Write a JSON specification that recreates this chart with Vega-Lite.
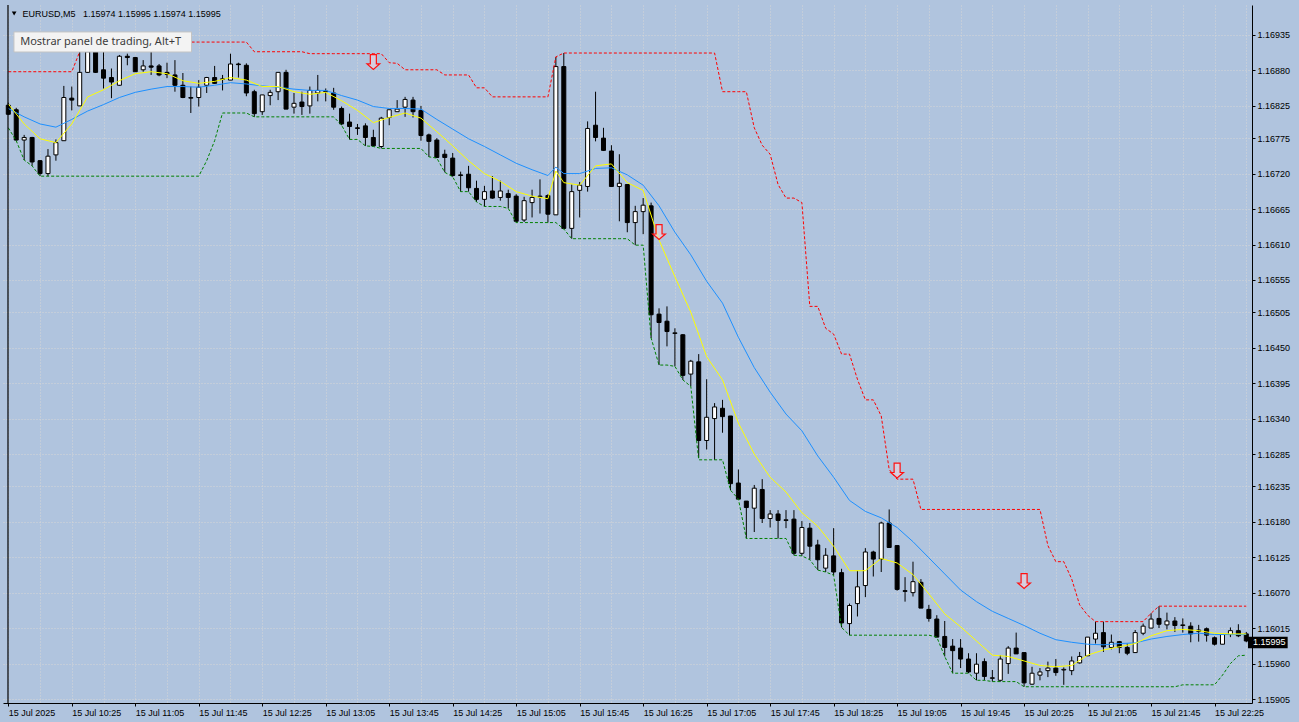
{
"$schema":"https://vega.github.io/schema/vega-lite/v6.json",
"width":1249,"height":698,
"autosize":{"type":"none"},
"padding":{"left":3,"top":5,"right":47,"bottom":19},
"background":"#b0c4de",
"config":{"view":{"stroke":null},
"axis":{"domainColor":"#000000","domainWidth":1,"tickColor":"#000000","tickSize":3,"labelColor":"#000000","labelFont":"Liberation Sans","labelFontSize":9,"gridColor":"#d6d6d6","gridDash":[1,2],"gridWidth":1},
"axisY":{"labelOverlap":false}},
"datasets":{
"bars":[
{"t":"2025-07-15T09:45Z","o":1.16826,"h":1.1683,"l":1.16811,"c":1.16812,"up":1.16878,"dn":1.16791},
{"t":"2025-07-15T09:50Z","o":1.16819,"h":1.16822,"l":1.16771,"c":1.16772,"up":1.16878,"dn":1.16771},
{"t":"2025-07-15T09:55Z","o":1.16772,"h":1.1678,"l":1.16741,"c":1.16776,"up":1.16878,"dn":1.16741},
{"t":"2025-07-15T10:00Z","o":1.16776,"h":1.16777,"l":1.16732,"c":1.16738,"up":1.16878,"dn":1.16732},
{"t":"2025-07-15T10:05Z","o":1.1674,"h":1.16741,"l":1.16716,"c":1.1672,"up":1.16878,"dn":1.16716},
{"t":"2025-07-15T10:10Z","o":1.1672,"h":1.16758,"l":1.16716,"c":1.16747,"up":1.16878,"dn":1.16716},
{"t":"2025-07-15T10:15Z","o":1.16749,"h":1.16773,"l":1.1674,"c":1.16768,"up":1.16878,"dn":1.16716},
{"t":"2025-07-15T10:20Z","o":1.16771,"h":1.16856,"l":1.16771,"c":1.16838,"up":1.16878,"dn":1.16716},
{"t":"2025-07-15T10:25Z","o":1.16837,"h":1.16855,"l":1.16818,"c":1.16834,"up":1.16878,"dn":1.16716},
{"t":"2025-07-15T10:30Z","o":1.16825,"h":1.16909,"l":1.16825,"c":1.16877,"up":1.16909,"dn":1.16716},
{"t":"2025-07-15T10:35Z","o":1.16877,"h":1.1692,"l":1.16876,"c":1.16909,"up":1.1692,"dn":1.16716},
{"t":"2025-07-15T10:40Z","o":1.16909,"h":1.16924,"l":1.16876,"c":1.16877,"up":1.16924,"dn":1.16716},
{"t":"2025-07-15T10:45Z","o":1.16881,"h":1.16909,"l":1.16852,"c":1.16868,"up":1.16924,"dn":1.16716},
{"t":"2025-07-15T10:50Z","o":1.16869,"h":1.16883,"l":1.16837,"c":1.16862,"up":1.16924,"dn":1.16716},
{"t":"2025-07-15T10:55Z","o":1.16857,"h":1.16904,"l":1.16856,"c":1.16902,"up":1.16924,"dn":1.16716},
{"t":"2025-07-15T11:00Z","o":1.16902,"h":1.16906,"l":1.16888,"c":1.169,"up":1.16924,"dn":1.16716},
{"t":"2025-07-15T11:05Z","o":1.169,"h":1.16901,"l":1.16878,"c":1.16878,"up":1.16924,"dn":1.16716},
{"t":"2025-07-15T11:10Z","o":1.16881,"h":1.16896,"l":1.16878,"c":1.16887,"up":1.16924,"dn":1.16716},
{"t":"2025-07-15T11:15Z","o":1.16887,"h":1.16909,"l":1.16873,"c":1.16885,"up":1.16924,"dn":1.16716},
{"t":"2025-07-15T11:20Z","o":1.16887,"h":1.1689,"l":1.16871,"c":1.16873,"up":1.16924,"dn":1.16716},
{"t":"2025-07-15T11:25Z","o":1.16877,"h":1.16892,"l":1.16868,"c":1.16874,"up":1.16924,"dn":1.16716},
{"t":"2025-07-15T11:30Z","o":1.16873,"h":1.16896,"l":1.16847,"c":1.16857,"up":1.16924,"dn":1.16716},
{"t":"2025-07-15T11:35Z","o":1.16857,"h":1.16876,"l":1.16837,"c":1.16838,"up":1.16924,"dn":1.16716},
{"t":"2025-07-15T11:40Z","o":1.16838,"h":1.16855,"l":1.16814,"c":1.16837,"up":1.16924,"dn":1.16716},
{"t":"2025-07-15T11:45Z","o":1.16838,"h":1.16865,"l":1.16824,"c":1.16854,"up":1.16924,"dn":1.16716},
{"t":"2025-07-15T11:50Z","o":1.16857,"h":1.1687,"l":1.16845,"c":1.16869,"up":1.16924,"dn":1.1674},
{"t":"2025-07-15T11:55Z","o":1.16869,"h":1.16887,"l":1.16859,"c":1.1686,"up":1.16924,"dn":1.16771},
{"t":"2025-07-15T12:00Z","o":1.16866,"h":1.16873,"l":1.16849,"c":1.16867,"up":1.16924,"dn":1.16814},
{"t":"2025-07-15T12:05Z","o":1.16865,"h":1.16906,"l":1.16865,"c":1.1689,"up":1.16924,"dn":1.16814},
{"t":"2025-07-15T12:10Z","o":1.1689,"h":1.16892,"l":1.16869,"c":1.16889,"up":1.16924,"dn":1.16814},
{"t":"2025-07-15T12:15Z","o":1.16888,"h":1.16891,"l":1.1684,"c":1.16845,"up":1.16924,"dn":1.16814},
{"t":"2025-07-15T12:20Z","o":1.16847,"h":1.1685,"l":1.16808,"c":1.16813,"up":1.16909,"dn":1.16808},
{"t":"2025-07-15T12:25Z","o":1.16816,"h":1.16842,"l":1.16811,"c":1.16842,"up":1.16909,"dn":1.16808},
{"t":"2025-07-15T12:30Z","o":1.16841,"h":1.1685,"l":1.16826,"c":1.16846,"up":1.16909,"dn":1.16808},
{"t":"2025-07-15T12:35Z","o":1.16847,"h":1.16877,"l":1.16834,"c":1.16877,"up":1.16909,"dn":1.16808},
{"t":"2025-07-15T12:40Z","o":1.16877,"h":1.16881,"l":1.1682,"c":1.1682,"up":1.16909,"dn":1.16808},
{"t":"2025-07-15T12:45Z","o":1.16823,"h":1.16845,"l":1.16813,"c":1.16829,"up":1.16909,"dn":1.16808},
{"t":"2025-07-15T12:50Z","o":1.16831,"h":1.16847,"l":1.16811,"c":1.16824,"up":1.16909,"dn":1.16808},
{"t":"2025-07-15T12:55Z","o":1.16825,"h":1.16855,"l":1.16813,"c":1.16849,"up":1.16906,"dn":1.16808},
{"t":"2025-07-15T13:00Z","o":1.16845,"h":1.16873,"l":1.16832,"c":1.16849,"up":1.16906,"dn":1.16808},
{"t":"2025-07-15T13:05Z","o":1.16847,"h":1.16852,"l":1.16832,"c":1.16848,"up":1.16906,"dn":1.16808},
{"t":"2025-07-15T13:10Z","o":1.16845,"h":1.16853,"l":1.16819,"c":1.16823,"up":1.16906,"dn":1.16808},
{"t":"2025-07-15T13:15Z","o":1.16821,"h":1.16824,"l":1.16795,"c":1.16797,"up":1.16906,"dn":1.16795},
{"t":"2025-07-15T13:20Z","o":1.168,"h":1.16813,"l":1.16773,"c":1.16793,"up":1.16906,"dn":1.16773},
{"t":"2025-07-15T13:25Z","o":1.16791,"h":1.16797,"l":1.1678,"c":1.1679,"up":1.16906,"dn":1.16773},
{"t":"2025-07-15T13:30Z","o":1.16794,"h":1.16798,"l":1.16763,"c":1.16776,"up":1.16906,"dn":1.16763},
{"t":"2025-07-15T13:35Z","o":1.16776,"h":1.16788,"l":1.16762,"c":1.16763,"up":1.16906,"dn":1.16762},
{"t":"2025-07-15T13:40Z","o":1.16762,"h":1.16808,"l":1.16759,"c":1.16806,"up":1.16906,"dn":1.16759},
{"t":"2025-07-15T13:45Z","o":1.16807,"h":1.16819,"l":1.16795,"c":1.16819,"up":1.16892,"dn":1.16759},
{"t":"2025-07-15T13:50Z","o":1.16816,"h":1.16834,"l":1.16816,"c":1.1682,"up":1.16891,"dn":1.16759},
{"t":"2025-07-15T13:55Z","o":1.16823,"h":1.16839,"l":1.16808,"c":1.16835,"up":1.16881,"dn":1.16759},
{"t":"2025-07-15T14:00Z","o":1.16834,"h":1.16839,"l":1.16807,"c":1.16816,"up":1.16881,"dn":1.16759},
{"t":"2025-07-15T14:05Z","o":1.16818,"h":1.16825,"l":1.16771,"c":1.16779,"up":1.16881,"dn":1.16759},
{"t":"2025-07-15T14:10Z","o":1.1678,"h":1.16782,"l":1.16746,"c":1.1677,"up":1.16881,"dn":1.16746},
{"t":"2025-07-15T14:15Z","o":1.16772,"h":1.16775,"l":1.16744,"c":1.16745,"up":1.16881,"dn":1.16744},
{"t":"2025-07-15T14:20Z","o":1.1675,"h":1.16757,"l":1.16722,"c":1.16745,"up":1.16873,"dn":1.16722},
{"t":"2025-07-15T14:25Z","o":1.16744,"h":1.16752,"l":1.16715,"c":1.16717,"up":1.16873,"dn":1.16715},
{"t":"2025-07-15T14:30Z","o":1.16718,"h":1.16723,"l":1.16692,"c":1.16717,"up":1.16873,"dn":1.16692},
{"t":"2025-07-15T14:35Z","o":1.16719,"h":1.16732,"l":1.16692,"c":1.16698,"up":1.16873,"dn":1.16692},
{"t":"2025-07-15T14:40Z","o":1.16697,"h":1.16709,"l":1.16676,"c":1.1668,"up":1.16853,"dn":1.16676},
{"t":"2025-07-15T14:45Z","o":1.1668,"h":1.16701,"l":1.16669,"c":1.16692,"up":1.16853,"dn":1.16669},
{"t":"2025-07-15T14:50Z","o":1.16693,"h":1.16716,"l":1.16681,"c":1.16682,"up":1.16839,"dn":1.16669},
{"t":"2025-07-15T14:55Z","o":1.16683,"h":1.16709,"l":1.16678,"c":1.16693,"up":1.16839,"dn":1.16669},
{"t":"2025-07-15T15:00Z","o":1.16689,"h":1.16695,"l":1.16666,"c":1.16683,"up":1.16839,"dn":1.16666},
{"t":"2025-07-15T15:05Z","o":1.16685,"h":1.16688,"l":1.16644,"c":1.16646,"up":1.16839,"dn":1.16644},
{"t":"2025-07-15T15:10Z","o":1.16648,"h":1.16684,"l":1.16645,"c":1.16678,"up":1.16839,"dn":1.16644},
{"t":"2025-07-15T15:15Z","o":1.16675,"h":1.16695,"l":1.16652,"c":1.16683,"up":1.16839,"dn":1.16644},
{"t":"2025-07-15T15:20Z","o":1.16684,"h":1.16711,"l":1.16658,"c":1.16685,"up":1.16839,"dn":1.16644},
{"t":"2025-07-15T15:25Z","o":1.16686,"h":1.16688,"l":1.16644,"c":1.16657,"up":1.16839,"dn":1.16644},
{"t":"2025-07-15T15:30Z","o":1.16656,"h":1.16901,"l":1.16656,"c":1.16886,"up":1.16901,"dn":1.16644},
{"t":"2025-07-15T15:35Z","o":1.16886,"h":1.16907,"l":1.16634,"c":1.16635,"up":1.16907,"dn":1.16634},
{"t":"2025-07-15T15:40Z","o":1.16635,"h":1.16703,"l":1.16619,"c":1.16692,"up":1.16907,"dn":1.16619},
{"t":"2025-07-15T15:45Z","o":1.16694,"h":1.16707,"l":1.16652,"c":1.16702,"up":1.16907,"dn":1.16619},
{"t":"2025-07-15T15:50Z","o":1.167,"h":1.16801,"l":1.16692,"c":1.1679,"up":1.16907,"dn":1.16619},
{"t":"2025-07-15T15:55Z","o":1.16795,"h":1.16847,"l":1.1677,"c":1.16776,"up":1.16907,"dn":1.16619},
{"t":"2025-07-15T16:00Z","o":1.16775,"h":1.16791,"l":1.16755,"c":1.16756,"up":1.16907,"dn":1.16619},
{"t":"2025-07-15T16:05Z","o":1.16755,"h":1.16764,"l":1.167,"c":1.167,"up":1.16907,"dn":1.16619},
{"t":"2025-07-15T16:10Z","o":1.167,"h":1.1675,"l":1.16646,"c":1.16705,"up":1.16907,"dn":1.16619},
{"t":"2025-07-15T16:15Z","o":1.16703,"h":1.16703,"l":1.16629,"c":1.16644,"up":1.16907,"dn":1.16619},
{"t":"2025-07-15T16:20Z","o":1.16644,"h":1.1667,"l":1.16609,"c":1.16661,"up":1.16907,"dn":1.16609},
{"t":"2025-07-15T16:25Z","o":1.16661,"h":1.16682,"l":1.16626,"c":1.16671,"up":1.16907,"dn":1.16609},
{"t":"2025-07-15T16:30Z","o":1.1667,"h":1.16675,"l":1.16465,"c":1.16501,"up":1.16907,"dn":1.16465},
{"t":"2025-07-15T16:35Z","o":1.16502,"h":1.16511,"l":1.16423,"c":1.16489,"up":1.16907,"dn":1.16423},
{"t":"2025-07-15T16:40Z","o":1.16491,"h":1.16514,"l":1.16452,"c":1.16475,"up":1.16907,"dn":1.16423},
{"t":"2025-07-15T16:45Z","o":1.16472,"h":1.1648,"l":1.16421,"c":1.16473,"up":1.16907,"dn":1.16421},
{"t":"2025-07-15T16:50Z","o":1.1647,"h":1.16471,"l":1.164,"c":1.16407,"up":1.16907,"dn":1.164},
{"t":"2025-07-15T16:55Z","o":1.16409,"h":1.16431,"l":1.1639,"c":1.16429,"up":1.16907,"dn":1.1639},
{"t":"2025-07-15T17:00Z","o":1.16428,"h":1.1644,"l":1.16279,"c":1.16306,"up":1.16907,"dn":1.16276},
{"t":"2025-07-15T17:05Z","o":1.16306,"h":1.16401,"l":1.16292,"c":1.16342,"up":1.16907,"dn":1.16276},
{"t":"2025-07-15T17:10Z","o":1.1634,"h":1.16364,"l":1.16276,"c":1.16358,"up":1.16907,"dn":1.16276},
{"t":"2025-07-15T17:15Z","o":1.16356,"h":1.16369,"l":1.16318,"c":1.16343,"up":1.16847,"dn":1.16276},
{"t":"2025-07-15T17:20Z","o":1.16344,"h":1.16344,"l":1.16229,"c":1.16239,"up":1.16847,"dn":1.16229},
{"t":"2025-07-15T17:25Z","o":1.1624,"h":1.16261,"l":1.16215,"c":1.16215,"up":1.16847,"dn":1.16215},
{"t":"2025-07-15T17:30Z","o":1.16212,"h":1.16212,"l":1.16154,"c":1.16202,"up":1.16847,"dn":1.16154},
{"t":"2025-07-15T17:35Z","o":1.16201,"h":1.16237,"l":1.16164,"c":1.16232,"up":1.16791,"dn":1.16154},
{"t":"2025-07-15T17:40Z","o":1.1623,"h":1.16246,"l":1.16178,"c":1.16185,"up":1.16764,"dn":1.16154},
{"t":"2025-07-15T17:45Z","o":1.16185,"h":1.16198,"l":1.16171,"c":1.16192,"up":1.1675,"dn":1.16154},
{"t":"2025-07-15T17:50Z","o":1.16192,"h":1.16198,"l":1.16154,"c":1.16182,"up":1.16703,"dn":1.16154},
{"t":"2025-07-15T17:55Z","o":1.16182,"h":1.16198,"l":1.1617,"c":1.16183,"up":1.16682,"dn":1.16154},
{"t":"2025-07-15T18:00Z","o":1.16184,"h":1.16198,"l":1.16128,"c":1.16131,"up":1.16682,"dn":1.16128},
{"t":"2025-07-15T18:05Z","o":1.16131,"h":1.16181,"l":1.16127,"c":1.16171,"up":1.16675,"dn":1.16127},
{"t":"2025-07-15T18:10Z","o":1.1617,"h":1.16178,"l":1.16121,"c":1.16142,"up":1.16514,"dn":1.16121},
{"t":"2025-07-15T18:15Z","o":1.16144,"h":1.16152,"l":1.16105,"c":1.16121,"up":1.16514,"dn":1.16105},
{"t":"2025-07-15T18:20Z","o":1.16108,"h":1.16139,"l":1.16102,"c":1.16128,"up":1.1648,"dn":1.16102},
{"t":"2025-07-15T18:25Z","o":1.16127,"h":1.1617,"l":1.16097,"c":1.16102,"up":1.16471,"dn":1.16097},
{"t":"2025-07-15T18:30Z","o":1.16101,"h":1.16107,"l":1.16016,"c":1.16023,"up":1.1644,"dn":1.16016},
{"t":"2025-07-15T18:35Z","o":1.16022,"h":1.16053,"l":1.16004,"c":1.1605,"up":1.1644,"dn":1.16004},
{"t":"2025-07-15T18:40Z","o":1.16053,"h":1.16104,"l":1.16033,"c":1.16079,"up":1.16401,"dn":1.16004},
{"t":"2025-07-15T18:45Z","o":1.16081,"h":1.16139,"l":1.16063,"c":1.16133,"up":1.16369,"dn":1.16004},
{"t":"2025-07-15T18:50Z","o":1.16133,"h":1.16135,"l":1.16095,"c":1.16122,"up":1.16369,"dn":1.16004},
{"t":"2025-07-15T18:55Z","o":1.16122,"h":1.1618,"l":1.16102,"c":1.16178,"up":1.16344,"dn":1.16004},
{"t":"2025-07-15T19:00Z","o":1.16178,"h":1.16199,"l":1.1614,"c":1.1614,"up":1.16261,"dn":1.16004},
{"t":"2025-07-15T19:05Z","o":1.16143,"h":1.16143,"l":1.16073,"c":1.16075,"up":1.16246,"dn":1.16004},
{"t":"2025-07-15T19:10Z","o":1.16073,"h":1.16094,"l":1.16056,"c":1.16072,"up":1.16246,"dn":1.16004},
{"t":"2025-07-15T19:15Z","o":1.1607,"h":1.16118,"l":1.16064,"c":1.16087,"up":1.16246,"dn":1.16004},
{"t":"2025-07-15T19:20Z","o":1.16086,"h":1.16091,"l":1.16046,"c":1.16046,"up":1.16199,"dn":1.16004},
{"t":"2025-07-15T19:25Z","o":1.16044,"h":1.16051,"l":1.16025,"c":1.1603,"up":1.16199,"dn":1.16004},
{"t":"2025-07-15T19:30Z","o":1.16029,"h":1.16035,"l":1.16001,"c":1.16001,"up":1.16199,"dn":1.16001},
{"t":"2025-07-15T19:35Z","o":1.16002,"h":1.16026,"l":1.15971,"c":1.15985,"up":1.16199,"dn":1.15971},
{"t":"2025-07-15T19:40Z","o":1.15987,"h":1.15998,"l":1.15945,"c":1.1598,"up":1.16199,"dn":1.15945},
{"t":"2025-07-15T19:45Z","o":1.15984,"h":1.15998,"l":1.15953,"c":1.15967,"up":1.16199,"dn":1.15945},
{"t":"2025-07-15T19:50Z","o":1.15967,"h":1.15976,"l":1.15945,"c":1.15947,"up":1.16199,"dn":1.15945},
{"t":"2025-07-15T19:55Z","o":1.15945,"h":1.15976,"l":1.15934,"c":1.15959,"up":1.16199,"dn":1.15934},
{"t":"2025-07-15T20:00Z","o":1.15963,"h":1.15968,"l":1.15934,"c":1.1594,"up":1.16199,"dn":1.15934},
{"t":"2025-07-15T20:05Z","o":1.15937,"h":1.1595,"l":1.15932,"c":1.15938,"up":1.16199,"dn":1.15932},
{"t":"2025-07-15T20:10Z","o":1.15934,"h":1.15973,"l":1.15932,"c":1.15967,"up":1.16199,"dn":1.15932},
{"t":"2025-07-15T20:15Z","o":1.1596,"h":1.15987,"l":1.15944,"c":1.15984,"up":1.16199,"dn":1.15932},
{"t":"2025-07-15T20:20Z","o":1.15984,"h":1.16008,"l":1.15975,"c":1.15975,"up":1.16199,"dn":1.15932},
{"t":"2025-07-15T20:25Z","o":1.15977,"h":1.15977,"l":1.15924,"c":1.1593,"up":1.16199,"dn":1.15924},
{"t":"2025-07-15T20:30Z","o":1.15928,"h":1.15955,"l":1.15927,"c":1.15945,"up":1.16199,"dn":1.15924},
{"t":"2025-07-15T20:35Z","o":1.15942,"h":1.15953,"l":1.15934,"c":1.15947,"up":1.16199,"dn":1.15924},
{"t":"2025-07-15T20:40Z","o":1.15949,"h":1.15963,"l":1.15939,"c":1.15953,"up":1.16143,"dn":1.15924},
{"t":"2025-07-15T20:45Z","o":1.15953,"h":1.15967,"l":1.15941,"c":1.15946,"up":1.16118,"dn":1.15924},
{"t":"2025-07-15T20:50Z","o":1.1595,"h":1.15954,"l":1.15927,"c":1.15951,"up":1.16118,"dn":1.15924},
{"t":"2025-07-15T20:55Z","o":1.15949,"h":1.15971,"l":1.15942,"c":1.15964,"up":1.16091,"dn":1.15924},
{"t":"2025-07-15T21:00Z","o":1.15961,"h":1.15978,"l":1.1596,"c":1.15971,"up":1.16051,"dn":1.15924},
{"t":"2025-07-15T21:05Z","o":1.15972,"h":1.16001,"l":1.15972,"c":1.16001,"up":1.16035,"dn":1.15924},
{"t":"2025-07-15T21:10Z","o":1.15998,"h":1.16025,"l":1.15991,"c":1.16007,"up":1.16025,"dn":1.15924},
{"t":"2025-07-15T21:15Z","o":1.16008,"h":1.16025,"l":1.15978,"c":1.15986,"up":1.16025,"dn":1.15924},
{"t":"2025-07-15T21:20Z","o":1.15985,"h":1.16005,"l":1.15982,"c":1.15993,"up":1.16025,"dn":1.15924},
{"t":"2025-07-15T21:25Z","o":1.15994,"h":1.15995,"l":1.15976,"c":1.15985,"up":1.16025,"dn":1.15924},
{"t":"2025-07-15T21:30Z","o":1.15985,"h":1.15991,"l":1.15973,"c":1.15976,"up":1.16025,"dn":1.15924},
{"t":"2025-07-15T21:35Z","o":1.15977,"h":1.16012,"l":1.15977,"c":1.16008,"up":1.16025,"dn":1.15924},
{"t":"2025-07-15T21:40Z","o":1.16007,"h":1.16022,"l":1.16004,"c":1.16018,"up":1.16025,"dn":1.15924},
{"t":"2025-07-15T21:45Z","o":1.16015,"h":1.16038,"l":1.16015,"c":1.16029,"up":1.16038,"dn":1.15924},
{"t":"2025-07-15T21:50Z","o":1.1603,"h":1.16049,"l":1.16015,"c":1.16021,"up":1.16049,"dn":1.15924},
{"t":"2025-07-15T21:55Z","o":1.1602,"h":1.16039,"l":1.16013,"c":1.16026,"up":1.16049,"dn":1.15924},
{"t":"2025-07-15T22:00Z","o":1.16026,"h":1.16032,"l":1.16009,"c":1.16019,"up":1.16049,"dn":1.15924},
{"t":"2025-07-15T22:05Z","o":1.16019,"h":1.1603,"l":1.16008,"c":1.1602,"up":1.16049,"dn":1.15927},
{"t":"2025-07-15T22:10Z","o":1.16018,"h":1.16024,"l":1.15993,"c":1.16006,"up":1.16049,"dn":1.15927},
{"t":"2025-07-15T22:15Z","o":1.16012,"h":1.1602,"l":1.15994,"c":1.1601,"up":1.16049,"dn":1.15927},
{"t":"2025-07-15T22:20Z","o":1.16014,"h":1.16016,"l":1.15994,"c":1.16004,"up":1.16049,"dn":1.15927},
{"t":"2025-07-15T22:25Z","o":1.16,"h":1.16002,"l":1.15988,"c":1.1599,"up":1.16049,"dn":1.15927},
{"t":"2025-07-15T22:30Z","o":1.1599,"h":1.16005,"l":1.1599,"c":1.16005,"up":1.16049,"dn":1.15942},
{"t":"2025-07-15T22:35Z","o":1.16005,"h":1.16016,"l":1.16001,"c":1.16011,"up":1.16049,"dn":1.1596},
{"t":"2025-07-15T22:40Z","o":1.16011,"h":1.16021,"l":1.16001,"c":1.16003,"up":1.16049,"dn":1.15972},
{"t":"2025-07-15T22:45Z","o":1.16006,"h":1.16009,"l":1.15993,"c":1.15995,"up":1.16049,"dn":1.15973}
],
"ma":[
{"t":"2025-07-15T09:45Z","f":1.16828,"s":1.16821},
{"t":"2025-07-15T09:55Z","f":1.16797,"s":1.16808},
{"t":"2025-07-15T10:05Z","f":1.16774,"s":1.16797},
{"t":"2025-07-15T10:15Z","f":1.16768,"s":1.16792},
{"t":"2025-07-15T10:25Z","f":1.16797,"s":1.16804},
{"t":"2025-07-15T10:35Z","f":1.16839,"s":1.16817},
{"t":"2025-07-15T10:45Z","f":1.1685,"s":1.16827},
{"t":"2025-07-15T10:55Z","f":1.16864,"s":1.16838},
{"t":"2025-07-15T11:05Z","f":1.16875,"s":1.16846},
{"t":"2025-07-15T11:15Z","f":1.16878,"s":1.16851},
{"t":"2025-07-15T11:25Z","f":1.16875,"s":1.16855},
{"t":"2025-07-15T11:35Z","f":1.16864,"s":1.16855},
{"t":"2025-07-15T11:45Z","f":1.1686,"s":1.16854},
{"t":"2025-07-15T11:55Z","f":1.16863,"s":1.16857},
{"t":"2025-07-15T12:05Z","f":1.16869,"s":1.16861},
{"t":"2025-07-15T12:15Z","f":1.16865,"s":1.16859},
{"t":"2025-07-15T12:25Z","f":1.16855,"s":1.16856},
{"t":"2025-07-15T12:35Z","f":1.16855,"s":1.16854},
{"t":"2025-07-15T12:45Z","f":1.16847,"s":1.16851},
{"t":"2025-07-15T12:55Z","f":1.16843,"s":1.16849},
{"t":"2025-07-15T13:05Z","f":1.16846,"s":1.16849},
{"t":"2025-07-15T13:15Z","f":1.16833,"s":1.16841},
{"t":"2025-07-15T13:25Z","f":1.16818,"s":1.16834},
{"t":"2025-07-15T13:35Z","f":1.16799,"s":1.16824},
{"t":"2025-07-15T13:45Z","f":1.16807,"s":1.16821},
{"t":"2025-07-15T13:55Z","f":1.16814,"s":1.16821},
{"t":"2025-07-15T14:05Z","f":1.16806,"s":1.1682},
{"t":"2025-07-15T14:15Z","f":1.16785,"s":1.16804},
{"t":"2025-07-15T14:25Z","f":1.16763,"s":1.16789},
{"t":"2025-07-15T14:35Z","f":1.1674,"s":1.16774},
{"t":"2025-07-15T14:45Z","f":1.1672,"s":1.16762},
{"t":"2025-07-15T14:55Z","f":1.16708,"s":1.16749},
{"t":"2025-07-15T15:05Z","f":1.16692,"s":1.16736},
{"t":"2025-07-15T15:15Z","f":1.16685,"s":1.16726},
{"t":"2025-07-15T15:25Z","f":1.16681,"s":1.16717},
{"t":"2025-07-15T15:30Z","f":1.16724,"s":1.1673},
{"t":"2025-07-15T15:35Z","f":1.16706,"s":1.1672},
{"t":"2025-07-15T15:45Z","f":1.16702,"s":1.1672},
{"t":"2025-07-15T15:55Z","f":1.16732,"s":1.16728},
{"t":"2025-07-15T16:05Z","f":1.16735,"s":1.16729},
{"t":"2025-07-15T16:15Z","f":1.16706,"s":1.16718},
{"t":"2025-07-15T16:25Z","f":1.16694,"s":1.16702},
{"t":"2025-07-15T16:35Z","f":1.16617,"s":1.1667},
{"t":"2025-07-15T16:45Z","f":1.1656,"s":1.16629},
{"t":"2025-07-15T16:55Z","f":1.16505,"s":1.16594},
{"t":"2025-07-15T17:05Z","f":1.16436,"s":1.16553},
{"t":"2025-07-15T17:15Z","f":1.164,"s":1.16519},
{"t":"2025-07-15T17:25Z","f":1.16333,"s":1.16466},
{"t":"2025-07-15T17:35Z","f":1.16285,"s":1.16419},
{"t":"2025-07-15T17:45Z","f":1.16249,"s":1.16381},
{"t":"2025-07-15T17:55Z","f":1.16226,"s":1.16347},
{"t":"2025-07-15T18:05Z","f":1.16194,"s":1.16321},
{"t":"2025-07-15T18:15Z","f":1.16173,"s":1.16282},
{"t":"2025-07-15T18:25Z","f":1.16142,"s":1.16249},
{"t":"2025-07-15T18:35Z","f":1.16104,"s":1.16213},
{"t":"2025-07-15T18:45Z","f":1.16104,"s":1.16196},
{"t":"2025-07-15T18:55Z","f":1.16123,"s":1.16186},
{"t":"2025-07-15T19:05Z","f":1.16116,"s":1.16171},
{"t":"2025-07-15T19:15Z","f":1.16098,"s":1.16149},
{"t":"2025-07-15T19:25Z","f":1.16068,"s":1.16124},
{"t":"2025-07-15T19:35Z","f":1.16037,"s":1.16099},
{"t":"2025-07-15T19:45Z","f":1.16017,"s":1.16074},
{"t":"2025-07-15T19:55Z","f":1.15995,"s":1.16056},
{"t":"2025-07-15T20:05Z","f":1.15973,"s":1.16041},
{"t":"2025-07-15T20:15Z","f":1.15971,"s":1.1603},
{"t":"2025-07-15T20:25Z","f":1.15964,"s":1.16019},
{"t":"2025-07-15T20:35Z","f":1.15957,"s":1.16007},
{"t":"2025-07-15T20:45Z","f":1.15955,"s":1.15997},
{"t":"2025-07-15T20:55Z","f":1.15957,"s":1.15993},
{"t":"2025-07-15T21:05Z","f":1.15973,"s":1.1599},
{"t":"2025-07-15T21:15Z","f":1.15981,"s":1.15989},
{"t":"2025-07-15T21:25Z","f":1.15986,"s":1.15991},
{"t":"2025-07-15T21:35Z","f":1.15991,"s":1.15992},
{"t":"2025-07-15T21:45Z","f":1.16003,"s":1.15998},
{"t":"2025-07-15T21:55Z","f":1.16011,"s":1.16002},
{"t":"2025-07-15T22:05Z","f":1.16013,"s":1.16005},
{"t":"2025-07-15T22:15Z","f":1.16011,"s":1.16007},
{"t":"2025-07-15T22:25Z","f":1.16007,"s":1.16005},
{"t":"2025-07-15T22:35Z","f":1.16006,"s":1.16005},
{"t":"2025-07-15T22:45Z","f":1.16006,"s":1.16005}
]},
"encoding":{
"x":{"field":"t","type":"temporal","title":null,"scale":{"type":"utc","domain":[1752572689000,1752619526500]},
"axis":{"orient":"bottom","title":null,"grid":true,"tickCount":200,
"values":[1752572700000,1752573900000,1752575100000,1752576300000,1752577500000,1752578700000,1752579900000,1752581100000,1752582300000,1752583500000,1752584700000,1752585900000,1752587100000,1752588300000,1752589500000,1752590700000,1752591900000,1752593100000,1752594300000,1752595500000,1752596700000,1752597900000,1752599100000,1752600300000,1752601500000,1752602700000,1752603900000,1752605100000,1752606300000,1752607500000,1752608700000,1752609900000,1752611100000,1752612300000,1752613500000,1752614700000,1752615900000,1752617100000,1752618300000,1752619500000],
"labelExpr":"((utchours(datum.value)*60 + utcminutes(datum.value) - 585) % 40) != 0 ? '' : ((utchours(datum.value)*60 + utcminutes(datum.value)) == 585 ? '15 Jul 2025' : utcFormat(datum.value, '%d %b %H:%M'))",
"tickOpacity":{"condition":{"test":"((utchours(datum.value)*60 + utcminutes(datum.value) - 585) % 40) != 0","value":0},"value":1},
"labelAlign":"left","labelBaseline":"top","labelPadding":2,"tickSize":3,"labelOverlap":false,"labelBound":false,"labelFlush":false}}
},
"layer":[
{"data":{"name":"bars"},"mark":{"type":"rule","color":"#000000","strokeWidth":1},
"encoding":{
"y":{"field":"h","type":"quantitative","title":null,"scale":{"domain":[1.158988,1.169815],"nice":false,"zero":false},
"axis":{"orient":"right","title":null,"grid":true,"format":".5f","tickCount":200,
"values":[1.16935,1.1688,1.16825,1.16775,1.1672,1.16665,1.1661,1.16555,1.16505,1.1645,1.16395,1.1634,1.16285,1.16235,1.1618,1.16125,1.1607,1.16015,1.1596,1.15905],
"labelAlign":"left","labelBaseline":"middle","labelPadding":2,"tickSize":3,"labelOverlap":false,"labelBound":false,"labelFlush":false}},
"y2":{"field":"l"}}},
{"data":{"name":"bars"},"mark":{"type":"bar","width":4,"stroke":"#000000","strokeWidth":1},
"encoding":{
"y":{"field":"o","type":"quantitative","title":null},
"y2":{"field":"c"},
"fill":{"condition":{"test":"datum.c >= datum.o","value":"#ffffff"},"value":"#000000"}}},
{"data":{"name":"bars"},"mark":{"type":"line","color":"#ff0000","strokeWidth":1,"strokeDash":[3,2]},
"encoding":{"y":{"field":"up","type":"quantitative","title":null}}},
{"data":{"name":"bars"},"mark":{"type":"line","color":"#008000","strokeWidth":1,"strokeDash":[3,2]},
"encoding":{"y":{"field":"dn","type":"quantitative","title":null}}},
{"data":{"name":"ma"},"mark":{"type":"line","color":"#1e90ff","strokeWidth":1},
"encoding":{"y":{"field":"s","type":"quantitative","title":null}}},
{"data":{"name":"ma"},"mark":{"type":"line","color":"#ffff00","strokeWidth":1},
"encoding":{"y":{"field":"f","type":"quantitative","title":null}}},
{"data":{"values":[{"t":"2025-07-15T13:35Z","p":1.168931},{"t":"2025-07-15T16:35Z","p":1.166294},{"t":"2025-07-15T19:05Z","p":1.162594},{"t":"2025-07-15T20:25Z","p":1.16088}]},
"mark":{"type":"point","shape":"M -0.41 -1 L 0.41 -1 L 0.41 0.27 L 0.86 0.27 L 0 1 L -0.86 0.27 L -0.41 0.27 Z","size":216,"filled":true,"fill":"#f4d6e0","fillOpacity":0.55,"stroke":"#ff1010","strokeWidth":1.2,"opacity":1},
"encoding":{"y":{"field":"p","type":"quantitative","title":null}}},
{"data":{"values":[{"t":"2025-07-15T09:44:49Z"}]},"mark":{"type":"rule","color":"#000000","strokeWidth":1.2},
"encoding":{}},
{"data":{"values":[{"t":"2025-07-15T09:48:41Z","p":1.169683}]},
"mark":{"type":"point","shape":"triangle-down","size":22,"filled":true,"color":"#000000","opacity":1},
"encoding":{"y":{"field":"p","type":"quantitative","title":null}}},
{"data":{"values":[{"t":"2025-07-15T09:54:00Z","p":1.16968,"txt":"EURUSD,M5\u00a0\u00a0\u00a01.15974 1.15995 1.15974 1.15995"}]},
"mark":{"type":"text","align":"left","baseline":"middle","font":"Liberation Sans","fontSize":9,"color":"#000000"},
"encoding":{"y":{"field":"p","type":"quantitative","title":null},"text":{"field":"txt"}}},
{"data":{"values":[{"t":"2025-07-15T09:48:34Z","t2":"2025-07-15T11:40:26Z","p":1.169397,"p2":1.169086}]},
"mark":{"type":"rect","fill":"#f3f3f3","stroke":"#c4c4c4","strokeWidth":1},
"encoding":{"x2":{"field":"t2"},"y":{"field":"p","type":"quantitative","title":null},"y2":{"field":"p2"}}},
{"data":{"values":[{"t":"2025-07-15T09:52:30Z","p":1.169246,"txt":"Mostrar panel de trading, Alt+T"}]},
"mark":{"type":"text","align":"left","baseline":"middle","font":"Noto Sans","fontSize":11,"color":"#3c3c3c"},
"encoding":{"y":{"field":"p","type":"quantitative","title":null},"text":{"field":"txt"}}},
{"data":{"values":[{"t":"2025-07-15T22:46:04Z","t2":"2025-07-15T23:11:04Z","p":1.160016,"p2":1.159836}]},
"mark":{"type":"rect","fill":"#000000"},
"encoding":{"x2":{"field":"t2"},"y":{"field":"p","type":"quantitative","title":null},"y2":{"field":"p2"}}},
{"data":{"values":[{"t":"2025-07-15T22:49:09Z","p":1.15993,"txt":"1.15995"}]},
"mark":{"type":"text","align":"left","baseline":"middle","font":"Liberation Sans","fontSize":9,"color":"#ffffff"},
"encoding":{"y":{"field":"p","type":"quantitative","title":null},"text":{"field":"txt"}}}
]
}
